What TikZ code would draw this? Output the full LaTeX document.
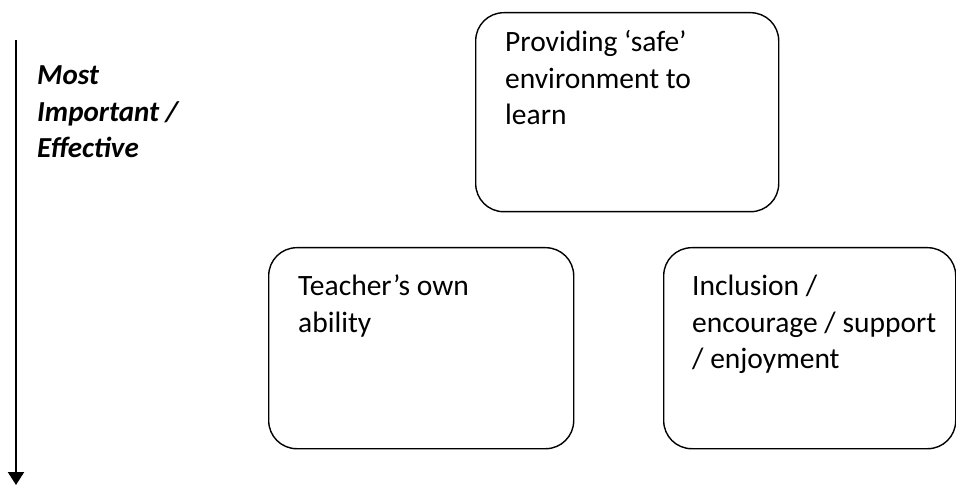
\documentclass[tikz,border=0pt]{standalone}
\usepackage{fontspec}
\setmainfont{Carlito}
\usetikzlibrary{arrows.meta}
\tikzset{
  box/.style={draw=black, line width=1.4pt, rounded corners=28pt, inner sep=0pt, anchor=north west},
  txt/.style={anchor=base west, inner sep=0pt, font=\fontsize{29.5}{36.5}\selectfont},
  lbl/.style={anchor=base west, inner sep=0pt, font=\fontsize{29}{36.5}\selectfont\bfseries\itshape},
  axis/.style={line width=2pt, -{Triangle[width=16pt,length=13pt]}}
}
\newcommand{\lines}[1]{\begin{tabular}[t]{@{}l@{}}#1\end{tabular}}
\begin{document}
\begin{tikzpicture}[x=1pt,y=-1pt]
\useasboundingbox (0,0) rectangle (956,486);
% boxes
\node[box, minimum width=303pt, minimum height=199pt] (b1) at (475,12) {};
\node[box, minimum width=305pt, minimum height=201pt] (b2) at (268,247) {};
\node[box, minimum width=292pt, minimum height=201pt] (b3) at (663,247) {};
% texts
\node[txt] (t1) at (505,52) {\lines{Providing ‘safe’\\environment to\\learn}};
\node[txt] (t2) at (298,296) {\lines{Teacher’s own\\ability}};
\node[txt] (t3) at (692,296) {\lines{Inclusion /\\encourage / support\\/ enjoyment}};
\node[lbl] (l1) at (37,85) {\lines{Most\\Important /\\Effective}};
% arrow
\coordinate (atop) at (16,40);
\coordinate (abot) at (16,485);
\draw[axis] (atop) -- (abot);
\end{tikzpicture}
\end{document}
